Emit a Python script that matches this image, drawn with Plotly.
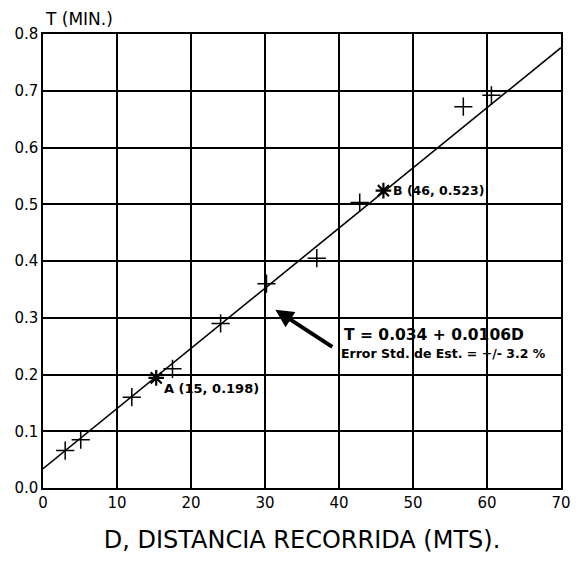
import plotly.graph_objects as go

# Observed data (D in metres, T in minutes)
obs_d = [3.0, 5.1, 12.0, 17.5, 24.0, 30.2, 37.0, 42.8, 56.8, 60.6]
obs_t = [0.066, 0.085, 0.160, 0.210, 0.290, 0.360, 0.405, 0.503, 0.672, 0.692]

# Reference points A and B
ref_d = [15.3, 46.0]
ref_t = [0.194, 0.524]
ref_labels = ["A (15, 0.198)", "B (46, 0.523)"]

# Fitted line T = 0.034 + 0.0106 D, endpoints
fit_d = [0, 70]
fit_t = [0.034, 0.776]

x_ticks = [0, 10, 20, 30, 40, 50, 60, 70]
y_ticks = [0.0, 0.1, 0.2, 0.3, 0.4, 0.5, 0.6, 0.7, 0.8]

FONT = "DejaVu Sans"

fig = go.Figure()

fig.add_trace(go.Scatter(x=fit_d, y=fit_t, mode="lines",
                         line=dict(color="black", width=1.6), hoverinfo="skip"))
fig.add_trace(go.Scatter(x=obs_d, y=obs_t, mode="markers",
                         marker=dict(symbol="cross-thin", size=13,
                                     line=dict(color="black", width=1.5))))
fig.add_trace(go.Scatter(x=ref_d, y=ref_t, mode="markers",
                         marker=dict(symbol="asterisk", size=13,
                                     line=dict(color="black", width=2.2))))

fig.add_annotation(x=ref_d[0], y=ref_t[0], text="<b>" + ref_labels[0] + "</b>",
                   showarrow=False, xanchor="left", yanchor="middle",
                   xshift=6, yshift=-11, font=dict(family=FONT, size=13, color="black"))
fig.add_annotation(x=ref_d[1], y=ref_t[1], text="<b>" + ref_labels[1] + "</b>",
                   showarrow=False, xanchor="left", yanchor="middle",
                   xshift=8, yshift=0, font=dict(family=FONT, size=12.5, color="black"))

# Arrow pointing to the line
fig.add_annotation(x=31.4, y=0.314, ax=39.3, ay=0.247, axref="x", ayref="y",
                   xref="x", yref="y", text="", showarrow=True,
                   arrowhead=2, arrowsize=0.9, arrowwidth=4, arrowcolor="black")

fig.add_annotation(x=40.4, y=0.270, text="<b>T = 0.034 + 0.0106D</b>",
                   showarrow=False, xanchor="left", yanchor="middle",
                   font=dict(family=FONT, size=15.5, color="black"))
fig.add_annotation(x=40.0, y=0.237, text="<b>Error Std. de Est. = +/- 3.2 %</b>",
                   showarrow=False, xanchor="left", yanchor="middle",
                   font=dict(family=FONT, size=12.5, color="black"))

fig.add_annotation(xref="paper", yref="paper", x=0.0, y=1.0, yshift=3,
                   text="T (MIN.)", showarrow=False, xanchor="left", yanchor="bottom",
                   font=dict(family=FONT, size=17, color="black"))

axis_common = dict(showgrid=True, gridcolor="black", gridwidth=1.5,
                   showline=True, linecolor="black", linewidth=1.5, mirror=True,
                   zeroline=False, ticks="",
                   tickfont=dict(family=FONT, size=15, color="black"))

fig.update_xaxes(range=[0, 70], tickvals=x_ticks, **axis_common,
                 title=dict(text="D, DISTANCIA RECORRIDA (MTS).", standoff=20,
                            font=dict(family=FONT, size=24, color="black")))
fig.update_yaxes(range=[0, 0.8], tickvals=y_ticks, tickformat=".1f", **axis_common)

fig.update_layout(width=583, height=566, showlegend=False,
                  plot_bgcolor="white", paper_bgcolor="white",
                  margin=dict(l=43, r=16, t=34, b=78))

fig.write_html("out.html")
